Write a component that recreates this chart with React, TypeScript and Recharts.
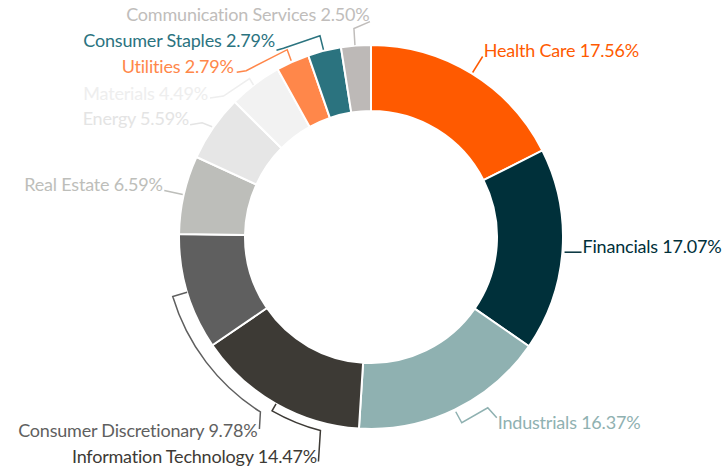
import React from 'react';
import { PieChart, Pie, Cell } from 'recharts';

const sectors = [
  'Health Care',
  'Financials',
  'Industrials',
  'Information Technology',
  'Consumer Discretionary',
  'Real Estate',
  'Energy',
  'Materials',
  'Utilities',
  'Consumer Staples',
  'Communication Services',
];

const weights = [17.56, 17.07, 16.37, 14.47, 9.78, 6.59, 5.59, 4.49, 2.79, 2.79, 2.5];

const sliceColors = [
  '#FF5A00',
  '#00303A',
  '#8FB1B1',
  '#3D3A35',
  '#5F5F5F',
  '#BDBEBA',
  '#E6E6E6',
  '#F2F2F2',
  '#FF874A',
  '#2B737F',
  '#BDB9B7',
];

const textColors = [
  '#FF5A00',
  '#00303A',
  '#8FB1B1',
  '#3D3A35',
  '#5F5F5F',
  '#BDBEBA',
  '#E4E4E4',
  '#EEEEEE',
  '#FF874A',
  '#2B737F',
  '#C0BDBB',
];

const data = sectors.map((name, i) => ({ name, value: weights[i] }));

// Leader-line layout, offsets relative to the slice's outer mid point
type Leader = {
  pts?: number[][];
  text: number[];
  anchor: 'start' | 'end';
  bracket?: { r: number; delta: number; drop: number[] };
};

const LAYOUT: Record<string, Leader> = {
  'Health Care': { pts: [[1, -1], [11, -17]], text: [12, -16], anchor: 'start' },
  Financials: { pts: [[2, 2], [19, 2]], text: [20, 3], anchor: 'start' },
  Industrials: { pts: [[1, 2], [7, 13], [33, -2], [42, 8]], text: [43, 19], anchor: 'start' },
  'Information Technology': { bracket: { r: 200, delta: -15, drop: [-2, 31] }, text: [-3.5, 32.5], anchor: 'end' },
  'Consumer Discretionary': { bracket: { r: 207, delta: -41, drop: [-1, 17] }, text: [-3, 25], anchor: 'end' },
  'Real Estate': { pts: [[-1, 0], [-19.5, -4]], text: [-21, -3.8], anchor: 'end' },
  Energy: { pts: [[-1, -1], [-11, -5], [-23, -3]], text: [-24, -3], anchor: 'end' },
  Materials: { pts: [[-1.5, 1], [-5.5, -5.5], [-31.5, 12], [-45, 14]], text: [-47, 16], anchor: 'end' },
  Utilities: { pts: [[-1.5, -1], [-5.5, -12], [-46.5, 9], [-56, 10.5]], text: [-59, 11], anchor: 'end' },
  'Consumer Staples': { pts: [[-1, -1], [-4.5, -15], [-41, -2.5], [-48, -0.5]], text: [-49.5, -3.5], anchor: 'end' },
  'Communication Services': { pts: [[-1, -0.5], [-2, -17], [14, -24]], text: [13.5, -24.5], anchor: 'end' },
};

const polar = (cx: number, cy: number, r: number, cw: number) => {
  const a = (cw * Math.PI) / 180;
  return [cx + r * Math.sin(a), cy - r * Math.cos(a)];
};

const renderLabel = (props: any) => {
  const { cx, cy, midAngle, outerRadius, index } = props;
  const name = sectors[index];
  const lay = LAYOUT[name];
  const color = textColors[index];
  const cw = 90 - midAngle;
  const [px, py] = polar(cx, cy, outerRadius, cw);
  let d = '';
  let tx = px + lay.text[0];
  let ty = py + lay.text[1];
  if (lay.bracket) {
    const b = lay.bracket;
    const [ax, ay] = polar(cx, cy, b.r, cw);
    const [bx, by] = polar(cx, cy, b.r, cw + b.delta);
    const sweep = b.delta < 0 ? 0 : 1;
    d = `M${px},${py} L${ax},${ay} A${b.r},${b.r} 0 0 ${sweep} ${bx},${by} L${bx + b.drop[0]},${by + b.drop[1]}`;
    tx = bx + lay.text[0];
    ty = by + lay.text[1];
  } else if (lay.pts) {
    d = lay.pts.map((p, i) => `${i === 0 ? 'M' : 'L'}${px + p[0]},${py + p[1]}`).join(' ');
  }
  return (
    <g key={`lbl-${index}`}>
      <path d={d} fill="none" stroke={color} strokeWidth={1.5} />
      <text
        x={tx}
        y={ty}
        textAnchor={lay.anchor}
        fill={color}
        fontFamily="Lato, 'Open Sans', sans-serif"
        fontSize={18}
        letterSpacing={-0.2}
      >
        {`${name} ${weights[index].toFixed(2)}%`}
      </text>
    </g>
  );
};

export default function App() {
  return (
    <div style={{ position: 'absolute', left: 0, top: 0, width: 724, height: 472, background: '#fff' }}>
      <PieChart width={724} height={472} margin={{ top: 0, right: 0, bottom: 0, left: 0 }}>
        <Pie
          data={data}
          dataKey="value"
          nameKey="name"
          cx={371}
          cy={237}
          innerRadius={126}
          outerRadius={192}
          startAngle={90}
          endAngle={-270}
          stroke="#ffffff"
          strokeWidth={2}
          label={renderLabel}
          labelLine={false}
          isAnimationActive={false}
        >
          {data.map((d, i) => (
            <Cell key={d.name} fill={sliceColors[i]} />
          ))}
        </Pie>
      </PieChart>
    </div>
  );
}
